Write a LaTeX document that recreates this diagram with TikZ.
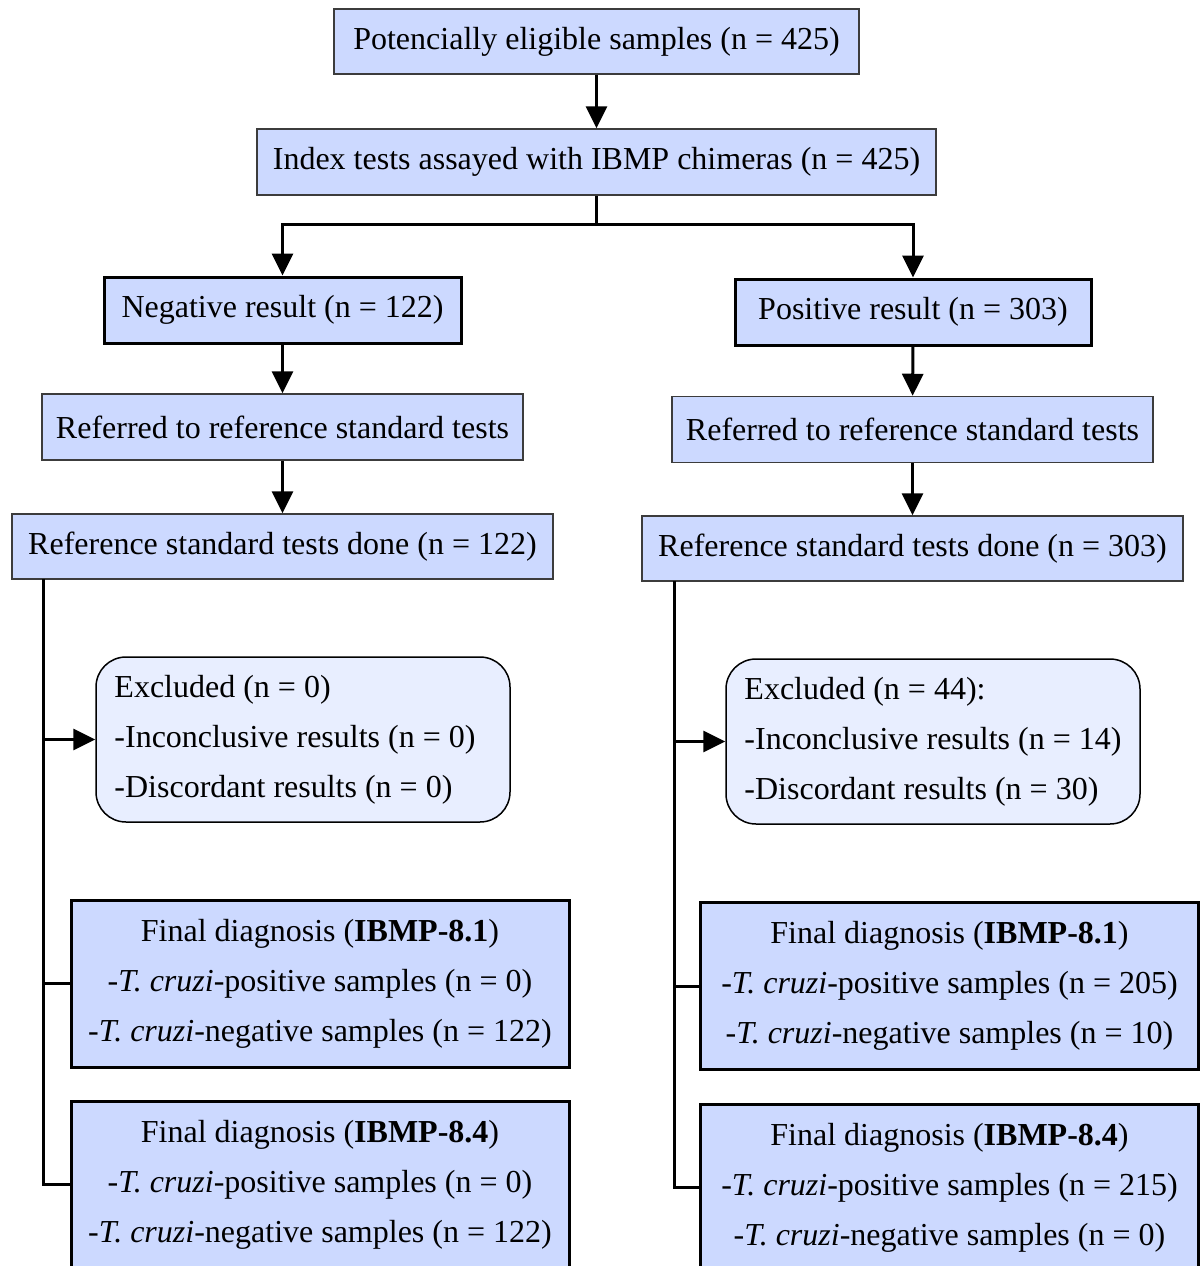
\documentclass[tikz,border=0pt]{standalone}
\usepackage{fontspec}
\setmainfont{Liberation Serif}
\usetikzlibrary{arrows.meta}
\definecolor{boxfill}{RGB}{204,217,255}
\definecolor{exfill}{RGB}{232,238,255}
\definecolor{thinline}{RGB}{60,60,60}
\tikzset{
  base/.style={fill=boxfill, inner sep=0pt, font=\fontsize{32}{50}\selectfont},
  thinbox/.style={base, draw=thinline, line width=1.5pt},
  thickbox/.style={base, draw=black, line width=3pt},
  exbox/.style={base, fill=exfill, draw=black, line width=1.5pt, rounded corners=30pt, minimum width=414pt, minimum height=165pt},
  extext/.style={anchor=west, inner sep=0pt, align=left, font=\fontsize{32}{50}\selectfont},
  finbox/.style={thickbox, align=center},
  conn/.style={line width=3pt, draw=black},
  arr/.style={conn, -{Triangle[length=22pt,width=21pt]}},
}
\begin{document}
\begin{tikzpicture}[x=1pt,y=-1pt]
\useasboundingbox (0,0) rectangle (1202,1266);
\node[thinbox, minimum width=525pt, minimum height=65pt] (pot) at (596.5,41.5) {Potencially eligible samples (n = 425)};
\node[thinbox, minimum width=679pt, minimum height=66pt] (idx) at (596.5,162) {Index tests assayed with IBMP chimeras (n = 425)};
\node[thickbox, minimum width=357pt, minimum height=66pt] (neg) at (282.5,310) {Negative result (n = 122)};
\node[thickbox, minimum width=356pt, minimum height=66pt] (pos) at (913,312) {Positive result (n = 303)};
\node[thinbox, minimum width=481pt, minimum height=66pt] (refL) at (282.5,427) {Referred to reference standard tests};
\node[thinbox, minimum width=481pt, minimum height=66pt] (refR) at (912.5,429.5) {Referred to reference standard tests};
\node[thinbox, minimum width=541pt, minimum height=65pt] (doneL) at (282.5,546.5) {Reference standard tests done (n = 122)};
\node[thinbox, minimum width=541pt, minimum height=65pt] (doneR) at (912.5,548.5) {Reference standard tests done (n = 303)};
\node[exbox] (exL) at (303,739.5) {};
\node[extext] (exLt) at ([xshift=19pt]exL.west) {Excluded (n = 0)\\-Inconclusive results (n = 0)\\-Discordant results (n = 0)};
\node[exbox] (exR) at (933,741.5) {};
\node[extext] (exRt) at ([xshift=19pt]exR.west) {Excluded (n = 44):\\-Inconclusive results (n = 14)\\-Discordant results (n = 30)};
\node[finbox, minimum width=498pt, minimum height=167pt] (f1L) at (320,983.5) {Final diagnosis (\textbf{IBMP-8.1})\\-\textit{T. cruzi}-positive samples (n = 0)\\-\textit{T. cruzi}-negative samples (n = 122)};
\node[finbox, minimum width=498pt, minimum height=167pt] (f2L) at (320,1184.5) {Final diagnosis (\textbf{IBMP-8.4})\\-\textit{T. cruzi}-positive samples (n = 0)\\-\textit{T. cruzi}-negative samples (n = 122)};
\node[finbox, minimum width=498pt, minimum height=167pt] (f1R) at (949.5,986) {Final diagnosis (\textbf{IBMP-8.1})\\-\textit{T. cruzi}-positive samples (n = 205)\\-\textit{T. cruzi}-negative samples (n = 10)};
\node[finbox, minimum width=498pt, minimum height=167pt] (f2R) at (949.5,1187.5) {Final diagnosis (\textbf{IBMP-8.4})\\-\textit{T. cruzi}-positive samples (n = 215)\\-\textit{T. cruzi}-negative samples (n = 0)};
% connectors
\draw[arr] (pot) -- (idx);
\coordinate (split) at (596.5,224);
\draw[conn] (idx.south) -- (split);
\draw[arr] (split) -| (neg.north);
\draw[arr] (split) -| (pos.north);
\draw[arr] (neg) -- (refL);
\draw[arr] (pos) -- (refR);
\draw[arr] (refL) -- (doneL);
\draw[arr] (refR) -- (doneR);
% left trunk
\coordinate (tL) at (43,579);
\draw[conn] (tL) |- (f2L.west);
\draw[conn] (43,983.5) -- (f1L.west);
\draw[arr] (43,739.5) -- (exL.west);
% right trunk
\coordinate (tR) at (674,581);
\draw[conn] (tR) |- (f2R.west);
\draw[conn] (674,986) -- (f1R.west);
\draw[arr] (674,741.5) -- (exR.west);
\end{tikzpicture}
\end{document}
